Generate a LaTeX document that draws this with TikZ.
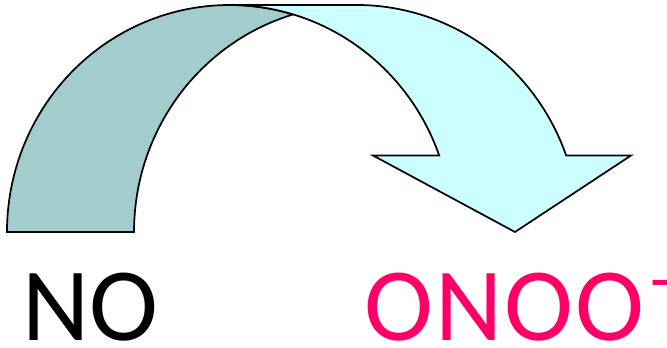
\documentclass[tikz,border=0pt]{standalone}
\usepackage{fontspec}
\setmainfont{Carlito}
\definecolor{bandfront}{RGB}{204,255,255}
\definecolor{bandback}{RGB}{163,204,204}
\definecolor{pinktext}{RGB}{255,0,102}
\begin{document}
\begin{tikzpicture}[x=0.75pt,y=0.75pt,
  outline/.style={draw=black,line width=1.3pt,line join=miter},
  label/.style={font=\fontsize{78}{80}\selectfont,inner sep=0pt,anchor=base west}]
\useasboundingbox (0,0) rectangle (667,348);
% back (darker) part of the band
\path[fill=bandback,outline] (7,116)
  arc[start angle=180,end angle=73.42,x radius=222.6,y radius=227]
  arc[start angle=106.58,end angle=180,x radius=222.6,y radius=227]
  -- cycle;
% front part with arrow head
\path[fill=bandfront,outline] (356.6,343)
  arc[start angle=90,end angle=19.69,x radius=222.6,y radius=227]
  -- (631,192.5) -- (515,116) -- (373,192.5) -- (439.2,192.5)
  arc[start angle=19.69,end angle=90,x radius=222.6,y radius=227]
  -- cycle;
\node[label] (no) at (22,7) {NO};
\node[label,text=pinktext] (onoo) at (364,7) {\addfontfeature{LetterSpace=2}ONOO\kern5pt\raisebox{29pt}{\fontsize{52}{52}\selectfont -}};
\end{tikzpicture}
\end{document}
